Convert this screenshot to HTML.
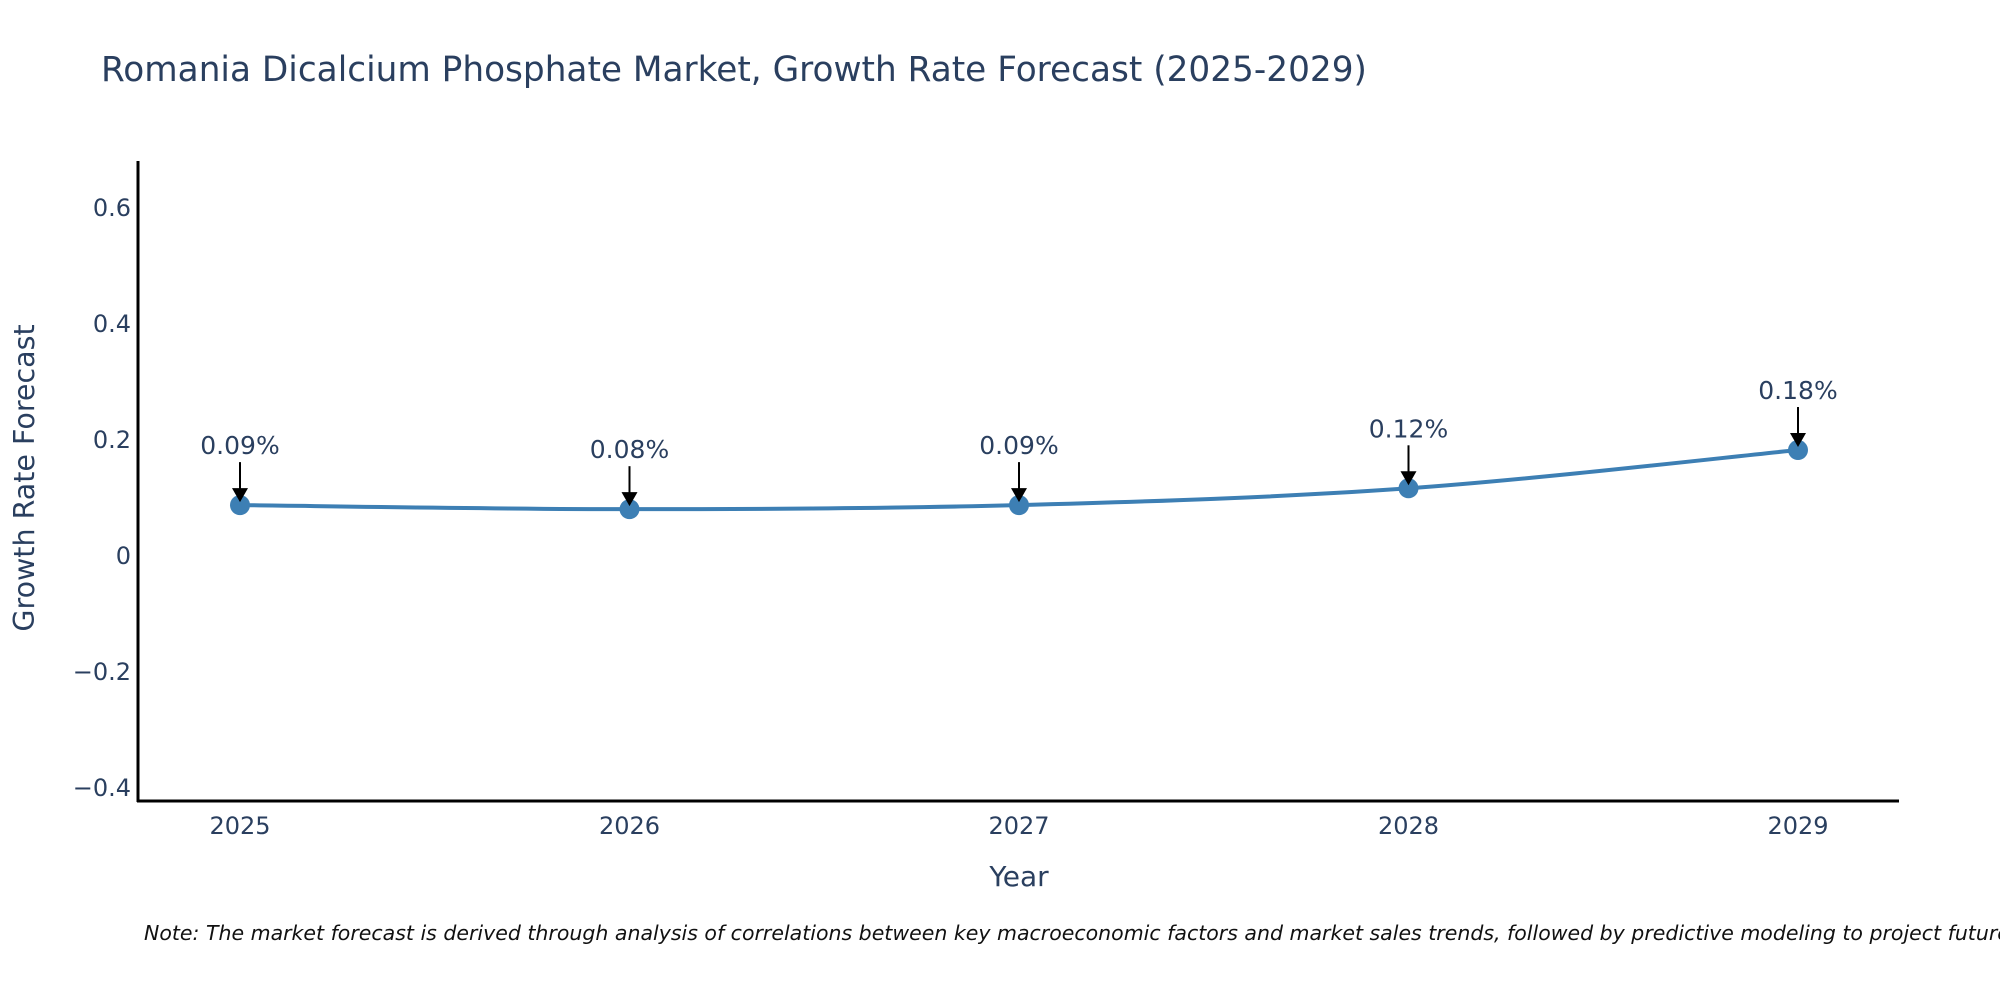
<!DOCTYPE html>
<html><head><meta charset="utf-8"><style>
body{margin:0;background:#fff}
svg text{font-family:"DejaVu Sans","Liberation Sans",sans-serif;fill:#2a3f5f}
</style></head><body>
<svg id="chart" width="2000" height="1000" viewBox="0 0 2000 1000">
<text x="101" y="81" font-size="34.3">Romania Dicalcium Phosphate Market, Growth Rate Forecast (2025-2029)</text>
<g id="yticks"></g>
<g id="xticks"></g>
<line x1="138" y1="161" x2="138" y2="802" stroke="#000" stroke-width="3"/>
<line x1="137" y1="801" x2="1899" y2="801" stroke="#000" stroke-width="3"/>
<path id="line" fill="none" stroke="#3d7fb4" stroke-width="4"/>
<g id="marks"></g>
<text x="1019" y="886" font-size="28" text-anchor="middle">Year</text>
<text transform="translate(34,478) rotate(-90)" font-size="28.5" text-anchor="middle">Growth Rate Forecast</text>
<text x="144" y="940" font-size="20.5" font-style="italic" style="fill:#111">Note: The market forecast is derived through analysis of correlations between key macroeconomic factors and market sales trends, followed by predictive modeling to project future sales.</text>
</svg>
<script>
const years=["2025","2026","2027","2028","2029"];
const values=[0.086,0.079,0.086,0.115,0.181];
const labels=["0.09%","0.08%","0.09%","0.12%","0.18%"];
const yTicks=[-0.4,-0.2,0,0.2,0.4,0.6];
const yTickLabels=["\u22120.4","\u22120.2","0","0.2","0.4","0.6"];
const NS="http://www.w3.org/2000/svg";
const x=i=>240+i*389.5;
const y=v=>555-v*580;
function mk(t,a,p){const e=document.createElementNS(NS,t);for(const k in a)e.setAttribute(k,a[k]);if(p)p.appendChild(e);return e;}
const yt=document.getElementById('yticks');
yTicks.forEach((v,i)=>{const t=mk('text',{x:131,y:y(v)+9,'font-size':24,'text-anchor':'end'},yt);t.textContent=yTickLabels[i];

});
const xt=document.getElementById('xticks');
years.forEach((yr,i)=>{const t=mk('text',{x:x(i),y:834,'font-size':24,'text-anchor':'middle'},xt);t.textContent=yr;

});
const pts=values.map((v,i)=>[x(i),y(v)]);
let d=`M${pts[0][0]},${pts[0][1]}`;
for(let i=0;i<pts.length-1;i++){const p0=pts[Math.max(0,i-1)],p1=pts[i],p2=pts[i+1],p3=pts[Math.min(pts.length-1,i+2)];const s=1/6;
d+=` C${p1[0]+(p2[0]-p0[0])*s},${p1[1]+(p2[1]-p0[1])*s} ${p2[0]-(p3[0]-p1[0])*s},${p2[1]-(p3[1]-p1[1])*s} ${p2[0]},${p2[1]}`;}
document.getElementById('line').setAttribute('d',d);
const g=document.getElementById('marks');
pts.forEach((p,i)=>{const c=mk('circle',{cx:p[0],cy:p[1],r:10,fill:'#3d7fb4'},g);


const a=mk('line',{x1:p[0],y1:p[1]-43,x2:p[0],y2:p[1]-14,stroke:'#000','stroke-width':2},g);


const h=mk('polygon',{points:`${p[0]-8},${p[1]-17} ${p[0]+8},${p[1]-17} ${p[0]},${p[1]-3}`,fill:'#000'},g);


const t=mk('text',{x:p[0],y:p[1]-51,'font-size':25,'text-anchor':'middle'},g);t.textContent=labels[i];

});
</script>
</body></html>
